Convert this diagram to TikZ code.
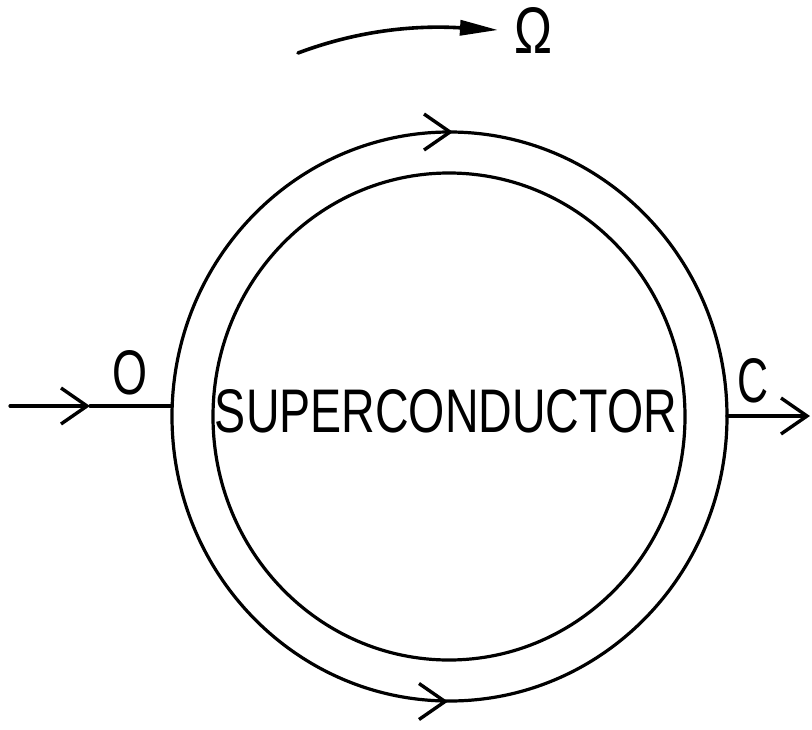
\documentclass[tikz,border=0pt]{standalone}
\usepackage{fontspec}
\setmainfont{Liberation Sans}
\usetikzlibrary{arrows.meta,shapes.geometric}
\tikzset{
  ink/.style={line width=3.2pt, line cap=round, line join=round},
  ring/.style={ellipse, draw, line width=3.2pt, inner sep=0pt},
  chev/.style={ink, -{Straight Barb[length=26pt,width=36pt,line width=3.4pt]}},
  lbl/.style={inner sep=0pt}
}
\begin{document}
\begin{tikzpicture}[x=1pt,y=-1pt]
\useasboundingbox (0,0) rectangle (812,729);
% rings
\node[ring, minimum width=555pt, minimum height=569pt] (outer) at (449.5,416.5) {};
\node[ring, minimum width=472pt, minimum height=487pt] (inner) at (449,416.5) {};
% label
\node[lbl] (sc) at (446,411.5) {\resizebox{462pt}{43pt}{SUPERCONDUCTOR}};
% input
\coordinate (inL) at (10,406);
\coordinate (inTip) at (90,406);
\coordinate (inEnd) at (172,406);
\draw[chev] (inL) -- (inTip);
\draw[ink] (inTip) -- (inEnd);
\node[lbl] (O) at (130.5,372.5) {\resizebox{35pt}{44pt}{O}};
% output
\coordinate (outS) at (727,416);
\coordinate (outTip) at (810,416);
\draw[chev] (outS) -- (outTip);
\node[lbl] (C) at (752.5,380.5) {\resizebox{31pt}{44pt}{C}};
% chevrons on ring
\coordinate (topA) at (446,132);
\coordinate (topB) at (453,132);
\draw[chev] (topA) -- (topB);
\coordinate (botA) at (441,701.5);
\coordinate (botB) at (448,701.5);
\draw[chev] (botA) -- (botB);
% rotation arrow
\coordinate (wS) at (298,53);
\coordinate (wE) at (498,30);
\draw[ink, line width=3.6pt, -{Triangle[length=38pt,width=15pt]}] (wS) .. controls (370,26) and (430,26) .. (wE);
\node[lbl] (Om) at (534,30) {\resizebox{38pt}{46pt}{Ω}};
\end{tikzpicture}
\end{document}
